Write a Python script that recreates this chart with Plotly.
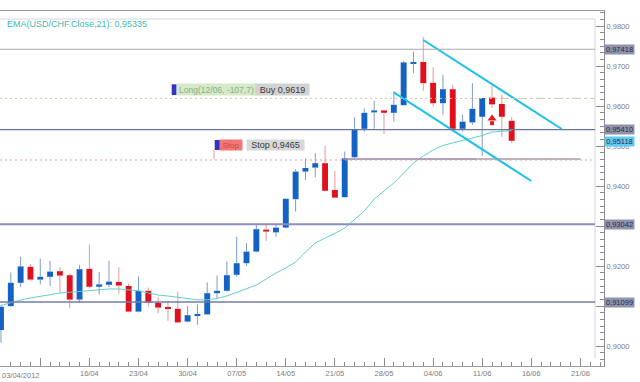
import plotly.graph_objects as go

# ---------------- data ----------------
day_index = list(range(53))
opens = [0.9040, 0.9100, 0.9158, 0.9198, 0.9166, 0.9173, 0.9187, 0.9177, 0.9116, 0.9193,
         0.9148, 0.9153, 0.9160, 0.9150, 0.9086, 0.9138, 0.9108, 0.9097, 0.9093, 0.9061,
         0.9076, 0.9079, 0.9132, 0.9138, 0.9178, 0.9207, 0.9236, 0.9291, 0.9284, 0.9296,
         0.9367, 0.9436, 0.9446, 0.9457, 0.9390, 0.9372, 0.9472, 0.9543, 0.9584, 0.9589,
         0.9583, 0.9602, 0.9707, 0.9710, 0.9658, 0.9607, 0.9642, 0.9543, 0.9559, 0.9573,
         0.9621, 0.9605, 0.9563]
highs = [0.9102, 0.9184, 0.9223, 0.9205, 0.9218, 0.9213, 0.9197, 0.9181, 0.9203, 0.9254,
         0.9185, 0.9213, 0.9197, 0.9157, 0.9174, 0.9146, 0.9123, 0.9113, 0.9136, 0.9100,
         0.9104, 0.9159, 0.9176, 0.9211, 0.9273, 0.9257, 0.9303, 0.9303, 0.9304, 0.9369,
         0.9442, 0.9469, 0.9482, 0.9500, 0.9438, 0.9486, 0.9572, 0.9594, 0.9613, 0.9591,
         0.9636, 0.9713, 0.9736, 0.9773, 0.9697, 0.9678, 0.9653, 0.9578, 0.9657, 0.9621,
         0.9651, 0.9628, 0.9573]
lows = [0.9008, 0.9097, 0.9147, 0.9163, 0.9154, 0.9150, 0.9134, 0.9094, 0.9107, 0.9144,
        0.9129, 0.9147, 0.9131, 0.9084, 0.9084, 0.9098, 0.9082, 0.9063, 0.9058, 0.9059,
        0.9053, 0.9078, 0.9118, 0.9136, 0.9173, 0.9200, 0.9234, 0.9263, 0.9273, 0.9294,
        0.9336, 0.9415, 0.9422, 0.9387, 0.9370, 0.9371, 0.9470, 0.9536, 0.9543, 0.9530,
        0.9561, 0.9601, 0.9682, 0.9638, 0.9598, 0.9578, 0.9542, 0.9536, 0.9553, 0.9475,
        0.9595, 0.9523, 0.9507]
closes = [0.9098, 0.9158, 0.9199, 0.9166, 0.9173, 0.9186, 0.9176, 0.9116, 0.9192, 0.9148,
          0.9154, 0.9161, 0.9151, 0.9086, 0.9138, 0.9108, 0.9096, 0.9093, 0.9059, 0.9077,
          0.9080, 0.9132, 0.9138, 0.9177, 0.9207, 0.9236, 0.9292, 0.9286, 0.9296, 0.9368,
          0.9436, 0.9445, 0.9457, 0.9388, 0.9371, 0.9469, 0.9542, 0.9583, 0.9589, 0.9583,
          0.9603, 0.9709, 0.9710, 0.9657, 0.9607, 0.9642, 0.9543, 0.9561, 0.9593, 0.9620,
          0.9604, 0.9573, 0.9513]
ema21 = [0.91013, 0.91088, 0.91150, 0.91200, 0.91243, 0.91288, 0.91325, 0.91343, 0.91368, 0.91383,
         0.91413, 0.91425, 0.91425, 0.91408, 0.91380, 0.91325, 0.91275, 0.91250, 0.91213, 0.91175,
         0.91155, 0.91155, 0.91188, 0.91250, 0.91338, 0.91425, 0.91525, 0.91675, 0.91825, 0.91950,
         0.92100, 0.92350, 0.92575, 0.92700, 0.92813, 0.92950, 0.93175, 0.93375, 0.93675, 0.93875,
         0.94075, 0.94325, 0.94575, 0.94750, 0.94900, 0.95013, 0.95075, 0.95125, 0.95188, 0.95263,
         0.95350, 0.95375, 0.95383]

x_tick_idx = [0, 4, 9, 14, 19, 24, 29, 34, 39, 44, 49, 54, 59]
x_tick_text = ["", "", "16/04", "23/04", "30/04", "07/05", "14/05", "21/05", "28/05",
               "04/06", "11/06", "16/06", "21/06"]
first_date_label = "03/04/2012"
y_tick_vals = [0.90, 0.91, 0.92, 0.93, 0.94, 0.95, 0.96, 0.97, 0.98]
y_tick_text = ["0,9000", "", "0,9200", "", "0,9400", "0,9500", "0,9600", "0,9700", "0,9800"]

levels = [0.97418, 0.95410, 0.93042, 0.91099]
ema_label_value = 0.95118
ema_header = "EMA(USD/CHF.Close,21): 0,95335"
buy_price = 0.9619
stop_price = 0.9465
support_level = 0.94675
support_idx = [34.8, 48.5, 59.0]
upper_trend_idx = [43.0, 57.1]
upper_trend_val = [0.9765, 0.95425]
lower_trend_idx = [40.0, 54.0]
lower_trend_val = [0.96342, 0.94125]
signal_idx = [50]
signal_val = [0.9569]

# ---------------- helpers ----------------
PW, PH, PT = 604.0, 355.0, 11.0
def xp(px):
    return px / PW
def yp(py):
    return 1 - (py - PT) / PH
def comma(v, n):
    return f"{v:.{n}f}".replace(".", ",")

BLUE = "#1462c4"
RED = "#e0101c"
BLUE_WICK = "#7e9cc4"
RED_WICK = "#e49a9a"

fig = go.Figure()

# wicks (split so they don't cross bodies)
for up in (True, False):
    wx, wy = [], []
    for i, o, h, l, c in zip(day_index, opens, highs, lows, closes):
        if (c >= o) != up:
            continue
        top, bot = max(o, c), min(o, c)
        wx += [i, i, None, i, i, None]
        wy += [h, top, None, bot, l, None]
    fig.add_trace(go.Scatter(x=wx, y=wy, mode="lines",
                             line=dict(color=BLUE_WICK if up else RED_WICK, width=1),
                             hoverinfo="skip", showlegend=False))

# bodies
for up in (True, False):
    bx, bb, bh = [], [], []
    for i, o, c in zip(day_index, opens, closes):
        if (c >= o) != up:
            continue
        bx.append(i)
        bb.append(min(o, c))
        bh.append(abs(c - o))
    fig.add_trace(go.Bar(x=bx, y=bh, base=bb, width=0.6,
                         marker=dict(color=BLUE if up else RED, line=dict(width=0)),
                         hoverinfo="skip", showlegend=False))

# EMA
fig.add_trace(go.Scatter(x=day_index, y=ema21, mode="lines",
                         line=dict(color="#62cfc6", width=1), hoverinfo="skip", showlegend=False))

# support line
fig.add_trace(go.Scatter(x=support_idx[:2], y=[support_level] * 2, mode="lines",
                         line=dict(color="#9384aa", width=1.5), hoverinfo="skip", showlegend=False))
fig.add_trace(go.Scatter(x=support_idx[1:], y=[support_level] * 2, mode="lines",
                         line=dict(color="#b8b8c0", width=2), hoverinfo="skip", showlegend=False))

# trend channel
for tx, ty in ((upper_trend_idx, upper_trend_val), (lower_trend_idx, lower_trend_val)):
    fig.add_trace(go.Scatter(x=tx, y=ty, mode="lines",
                             line=dict(color="#1cc0ea", width=2), hoverinfo="skip", showlegend=False))

# signal arrow (head + stem)
fig.add_trace(go.Scatter(x=signal_idx, y=signal_val, mode="markers",
                         marker=dict(symbol="triangle-up", size=8, color="#e02020", line=dict(width=0)),
                         hoverinfo="skip", showlegend=False))
fig.add_trace(go.Scatter(x=signal_idx, y=[v - 0.0012 for v in signal_val], mode="markers",
                         marker=dict(symbol="square", size=4, color="#e02020", line=dict(width=0)),
                         hoverinfo="skip", showlegend=False))

shapes = []
# inner frame
shapes.append(dict(type="line", xref="paper", yref="paper", x0=0, x1=xp(595), y0=yp(19), y1=yp(19),
                   line=dict(color="#d4d4de", width=1)))
shapes.append(dict(type="line", xref="paper", yref="paper", x0=xp(595), x1=xp(595), y0=yp(19), y1=yp(358),
                   line=dict(color="#d4d4de", width=1)))
# level lines
level_styles = [("#a8a8b2", 1), ("#6878a0", 1.3), ("#8c8cc6", 2), ("#747ca6", 1.6)]
for lv, (col, wd) in zip(levels, level_styles):
    shapes.append(dict(type="line", xref="paper", yref="y", x0=0, x1=xp(595), y0=lv, y1=lv,
                       line=dict(color=col, width=wd)))
# buy and stop lines
shapes.append(dict(type="line", xref="paper", yref="y", x0=0, x1=xp(500), y0=buy_price, y1=buy_price,
                   line=dict(color="#cfc6a6", width=1, dash="2px,3px")))
shapes.append(dict(type="line", xref="paper", yref="y", x0=xp(500), x1=xp(595), y0=buy_price, y1=buy_price,
                   line=dict(color="#cfc6a6", width=1, dash="dashdot")))
shapes.append(dict(type="line", xref="paper", yref="y", x0=0, x1=xp(595), y0=stop_price, y1=stop_price,
                   line=dict(color="#ec93a2", width=1, dash="2px,3px")))
shapes.append(dict(type="line", xref="paper", yref="paper", x0=xp(214), x1=xp(214), y0=yp(159.5), y1=yp(150),
                   line=dict(color="#ec93a2", width=1)))
# order markers
shapes.append(dict(type="rect", xref="paper", yref="paper", x0=xp(171.7), x1=xp(176.7), y0=yp(95), y1=yp(84.3),
                   fillcolor="#3434c4", line=dict(width=0)))
shapes.append(dict(type="rect", xref="paper", yref="paper", x0=xp(214.7), x1=xp(220), y0=yp(150), y1=yp(140),
                   fillcolor="#3434c4", line=dict(width=0)))

FONT = "Liberation Sans, Arial, sans-serif"
ann = []
ann.append(dict(text=ema_header, xref="paper", yref="paper", x=xp(5), y=yp(24.3), xanchor="left",
                yanchor="middle", showarrow=False, font=dict(family=FONT, size=9, color="#3fb9b1")))
ann.append(dict(text=first_date_label, xref="paper", yref="paper", x=0, y=yp(375), xanchor="left",
                yanchor="middle", showarrow=False, font=dict(family=FONT, size=7.5, color="#7c7c7c")))
ann.append(dict(text="Long(12/06, -107,7)", xref="paper", yref="paper", x=xp(216.5), y=yp(89.7),
                xanchor="center", yanchor="middle", showarrow=False, width=79, height=11, borderpad=0,
                bgcolor="#d6e9c8", font=dict(family=FONT, size=8.5, color="#8fae86")))
ann.append(dict(text="Buy " + comma(buy_price, 4), xref="paper", yref="paper", x=xp(282.5), y=yp(89.7),
                xanchor="center", yanchor="middle", showarrow=False, width=53, height=11, borderpad=0,
                bgcolor="#d2d2d2", font=dict(family=FONT, size=9, color="#3a3a3a")))
ann.append(dict(text="Stop", xref="paper", yref="paper", x=xp(231), y=yp(145),
                xanchor="center", yanchor="middle", showarrow=False, width=22, height=10, borderpad=0,
                bgcolor="#f27676", font=dict(family=FONT, size=8, color="#c44a4a")))
ann.append(dict(text="Stop " + comma(stop_price, 4), xref="paper", yref="paper", x=xp(275), y=yp(144.6),
                xanchor="center", yanchor="middle", showarrow=False, width=57, height=10, borderpad=0,
                bgcolor="#d8d8d8", font=dict(family=FONT, size=9, color="#3a3a3a")))
for lv in levels:
    ann.append(dict(text=comma(lv, 5), xref="paper", yref="y", x=xp(619.5), y=lv,
                    xanchor="center", yanchor="middle", showarrow=False, width=29, height=9, borderpad=0,
                    bgcolor="#8e93ad", font=dict(family=FONT, size=7.5, color="#2c2c40")))
ann.append(dict(text=comma(ema_label_value, 5), xref="paper", yref="y", x=xp(619.5), y=ema_label_value,
                xanchor="center", yanchor="middle", showarrow=False, width=29, height=9, borderpad=0,
                bgcolor="#62c9f2", font=dict(family=FONT, size=7.5, color="#2c2c40")))

fig.update_layout(
    width=640, height=382,
    margin=dict(l=0, r=36, t=11, b=16, autoexpand=False),
    paper_bgcolor="white", plot_bgcolor="white",
    barmode="overlay", showlegend=False, hovermode=False,
    shapes=shapes, annotations=ann,
    font=dict(family=FONT, size=7.5, color="#7c7c7c"),
)
fig.update_xaxes(
    range=[-0.1, 61.4], showgrid=False, zeroline=False, automargin=False,
    showline=True, linecolor="#9a9aa2", linewidth=1, mirror=True,
    tickmode="array", tickvals=x_tick_idx, ticktext=x_tick_text,
    ticks="inside", ticklen=8, tickcolor="#8a8a92", tickwidth=1,
    tickfont=dict(family=FONT, size=7.5, color="#7c7c7c"),
    minor=dict(tickmode="linear", tick0=0, dtick=1, ticks="inside", ticklen=4,
               tickcolor="#8a8a92", tickwidth=1, showgrid=False),
)
fig.update_yaxes(
    range=[0.895, 0.98375], side="right", showgrid=False, zeroline=False, automargin=False,
    showline=True, linecolor="#8a8a92", linewidth=1,
    tickmode="array", tickvals=y_tick_vals, ticktext=y_tick_text,
    ticks="inside", ticklen=8, tickcolor="#8a8a92", tickwidth=1,
    tickfont=dict(family=FONT, size=7.5, color="#7c7c7c"),
    minor=dict(tickmode="linear", tick0=0.9, dtick=0.01 / 6, ticks="inside", ticklen=4,
               tickcolor="#8a8a92", tickwidth=1, showgrid=False),
)

fig.write_html("out.html", config={"displayModeBar": False},
               post_script="document.body.style.margin='0';document.body.style.overflow='hidden';")
